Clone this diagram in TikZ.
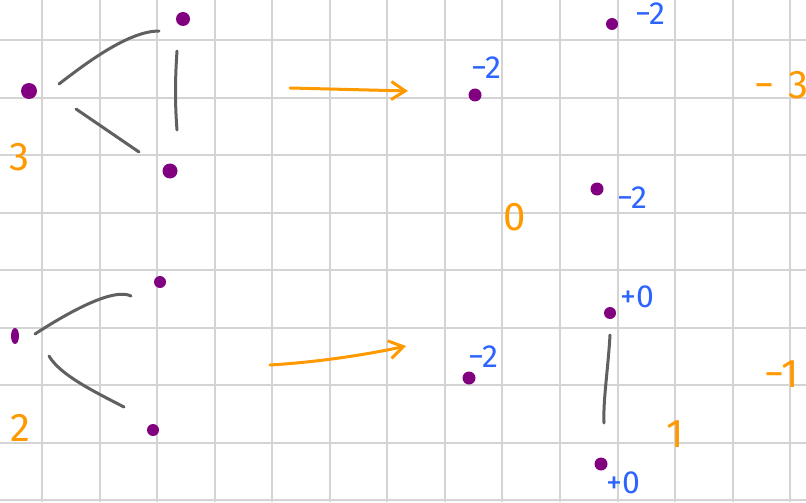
\documentclass[tikz,border=0pt]{standalone}
\usepackage{fontspec}
\setmainfont{Fira Sans}
\usetikzlibrary{arrows.meta}
\usetikzlibrary{math}
\usetikzlibrary{shapes.geometric}
\definecolor{qpurple}{RGB}{128,0,128}
\definecolor{qblue}{RGB}{45,100,255}
\definecolor{qorange}{RGB}{255,153,0}
\definecolor{qgray}{RGB}{96,96,96}
\definecolor{qgrid}{RGB}{212,212,212}

\begin{document}
\begin{tikzpicture}[x=0.5pt,y=-0.5pt,
  dot/.style={circle,fill=qpurple,inner sep=0pt,minimum size=#1},
  dot/.default=7pt,
  stroke/.style={qgray,line width=1.5pt,line cap=round},
  push/.style={qorange,line width=1.5pt,line cap=round,-{Straight Barb[length=7pt,width=9pt]}},
  score/.style={text=qblue,font=\fontsize{16}{16}\selectfont,inner sep=0pt},
  total/.style={text=qorange,font=\fontsize{20}{20}\selectfont,inner sep=0pt}]

\tikzmath{
\W = 806;
\H = 502;
\g = 57.55; %grid step
\xo = 42;
\yo = 40;
}

\fill[white] (0,0) rectangle (\W,\H);
\useasboundingbox (0,0) rectangle (\W,\H);
\clip (0,0) rectangle (\W,\H);

%grid:
\foreach \i in {0,...,13}
  \draw[qgrid,line width=1pt] ({\xo+\i*\g},0) -- ({\xo+\i*\g},\H);
\foreach \j in {0,...,8}
  \draw[qgrid,line width=1pt] (0,{\yo+\j*\g}) -- (\W,{\yo+\j*\g});

%top left:
\node[dot=8pt] (t1) at (29,91) {};
\node[dot] (t2) at (183,19) {};
\node[dot=7.5pt] (t3) at (170,171) {};
\coordinate (t12s) at (59,84);
\coordinate (t12e) at (159,31);
\coordinate (t13s) at (76,109);
\coordinate (t13e) at (139,152);
\coordinate (t23s) at (177,51);
\coordinate (t23e) at (177,130);
\draw[stroke] (t12s) .. controls (90,60) and (130,31) .. (t12e);
\draw[stroke] (t13s) -- (t13e);
\draw[stroke] (t23s) .. controls (175,80) and (175,105) .. (t23e);
\node[total] (n3) at (19,157) {3};

%top arrow
\coordinate (a1s) at (290,88);
\coordinate (a1e) at (408,91);
\draw[push] (a1s) -- (a1e);

%top right:
\node[dot=6.5pt] (r1) at (475,95) {};
\node[dot=6pt] (r2) at (612,24) {};
\node[dot=6.5pt] (r3) at (597,189) {};
\node[score] (r1s) at (486,68) {−2};
\node[score] (r2s) at (650,14) {−2};
\node[score] (r3s) at (632,198) {−2};
\node[total] (n0) at (515,217) {0};
\node[total,anchor=west] (nm3) at (754,85) {−\hspace{0.35em}3};

%bottom left:
\node[dot=6pt] (b1) at (160,282) {};
\node[ellipse,fill=qpurple,inner sep=0pt,minimum width=4pt,minimum height=8pt] (b2) at (15,336) {};
\node[dot=6pt] (b3) at (153,430) {};
\coordinate (b21s) at (35,334);
\coordinate (b21e) at (131,296);
\coordinate (b23s) at (49,356);
\coordinate (b23e) at (124,407);
\draw[stroke] (b21s) .. controls (75,308) and (115,288) .. (b21e);
\draw[stroke] (b23s) .. controls (60,375) and (95,392) .. (b23e);
\node[total] (n2) at (20,428) {2};

%bottom arrow
\coordinate (a2s) at (270,365);
\coordinate (a2e) at (406,346);
\draw[push] (a2s) .. controls (320,362) and (370,354) .. (a2e);

%bottom right:
\node[dot=6.5pt] (s1) at (469,378) {};
\node[dot=6pt] (s2) at (610,313) {};
\node[dot=6.5pt] (s3) at (601,464) {};
\coordinate (s23s) at (610,335);
\coordinate (s23e) at (604,423);
\draw[stroke] (s23s) .. controls (608,370) and (603,400) .. (s23e);
\node[score] (s1s) at (483,357) {−2};
\node[score] (s2s) at (637,297) {+0};
\node[score] (s3s) at (623,483) {+0};
\node[total] (n1) at (675,434) {1};
\node[total] (nm1) at (782,374) {−1};

\end{tikzpicture}
\end{document}
